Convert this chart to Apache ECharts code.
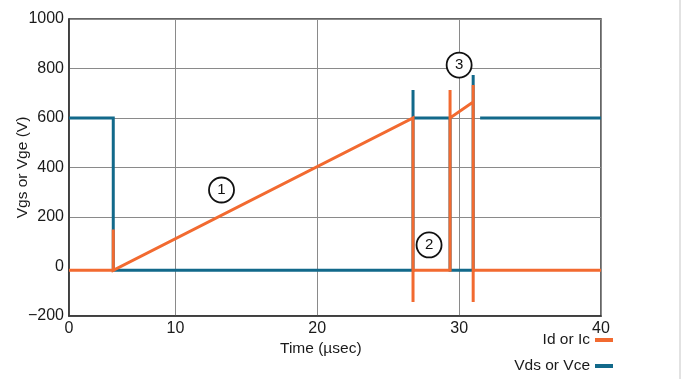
<!DOCTYPE html>
<html>
<head>
<meta charset="utf-8">
<script src="https://cdn.jsdelivr.net/npm/echarts@6/dist/echarts.min.js"></script>
<style>
html,body{margin:0;padding:0;background:#fff;}
#c{width:688px;height:379px;}
</style>
</head>
<body>
<div id="c"></div>
<script>
// Tick labels
const xTickValues = [2.5, 10, 20, 30, 40];
const xTickLabels = ['0', '10', '20', '30', '40'];
const yTickValues = [-200, 0, 200, 400, 600, 800, 1000];

// Series names
const seriesNames = ['Id or Ic', 'Vds or Vce'];

// Id or Ic (time µs, value)
const idTime  = [2.5, 5.62, 5.62, 5.62, 26.75, 26.75, 26.75, 29.36, 29.36, 29.36, 30.99, 30.99, 30.99, 30.99, 40];
const idValue = [-15, -15, 150, -15, 600, -143, -15, -15, 713, 600, 665, 733, -143, -15, -15];

// Vds or Vce (time µs, value)
const vdsTime  = [2.5, 5.62, 5.62, 26.75, 26.75, 26.75, 29.36, 29.36, 30.99, 30.99, 30.99, 31.3, 31.48, 40];
const vdsValue = [600, 600, -15, -15, 713, 600, 600, -15, -15, 774, 600, null, 600, 600];

// Circled annotations
const noteLabels = ['1', '2', '3'];
const noteTime   = [13.25, 27.88, 30.0];
const noteValue  = [309, 87, 814];

const orange = '#f26a30';
const blue = '#12698a';
const grid = '#8a8a8a';
const font = '"Liberation Sans", Arial, Helvetica, sans-serif';

const chart = echarts.init(document.getElementById('c'));
chart.setOption({
  animation: false,
  backgroundColor: '#fff',
  textStyle: { fontFamily: font },
  grid: { left: 69, right: 87, top: 19, bottom: 63, containLabel: false, outerBoundsMode: 'none',
          show: true, borderColor: '#333', borderWidth: 1.5, backgroundColor: 'transparent' },
  xAxis: {
    type: 'value', min: 2.5, max: 40,
    axisLine: { show: true, onZero: false, lineStyle: { color: '#333', width: 1.5 } },
    axisTick: { show: false, customValues: xTickValues },
    axisLabel: {
      customValues: xTickValues, color: '#1a1a1a', fontSize: 16, fontFamily: font, margin: 5,
      formatter: v => xTickLabels[xTickValues.indexOf(v)]
    },
    splitLine: { show: true, lineStyle: { color: grid, width: 1 } }
  },
  yAxis: {
    type: 'value', min: -200, max: 1000, interval: 200,
    name: 'Vgs or Vge (V)', nameLocation: 'middle', nameGap: 38, nameMoveOverlap: false,
    nameTextStyle: { fontSize: 15.5, color: '#1a1a1a', fontFamily: font },
    axisLine: { show: true, onZero: false, lineStyle: { color: '#333', width: 1.5 } },
    axisTick: { show: false },
    axisLabel: { color: '#1a1a1a', fontSize: 16, fontFamily: font, margin: 5,
      formatter: v => (v < 0 ? '\u2212' + Math.abs(v) : String(v)) },
    splitLine: { show: true, lineStyle: { color: yTickValues.map(v => (v === 0 ? 'rgba(0,0,0,0)' : grid)), width: 1 } }
  },
  legend: {
    data: seriesNames, orient: 'vertical', align: 'right', right: 75, top: 332, height: 47, padding: 0,
    itemWidth: 18, itemHeight: 4, itemGap: 10, icon: 'rect',
    textStyle: { fontSize: 15.5, color: '#1a1a1a', fontFamily: font }
  },
  graphic: [
    { type: 'text', left: 321 - 41, top: 341, style: { text: 'Time (\u00b5sec)', font: '15.5px ' + font, fill: '#1a1a1a' } },
    { type: 'line', shape: { x1: 680, y1: 0, x2: 680, y2: 379 }, style: { stroke: '#e2e2e2', lineWidth: 2 } }
  ],
  series: [
    {
      name: seriesNames[1], type: 'line', showSymbol: false, symbol: 'none', connectNulls: false,
      lineStyle: { color: blue, width: 3, join: 'miter' }, itemStyle: { color: blue },
      data: vdsTime.map((t, i) => [t, vdsValue[i]]), z: 2
    },
    {
      name: seriesNames[0], type: 'line', showSymbol: false, symbol: 'none',
      lineStyle: { color: orange, width: 3, join: 'miter' }, itemStyle: { color: orange },
      data: idTime.map((t, i) => [t, idValue[i]]), z: 3
    },
    {
      type: 'scatter', symbolSize: 25, z: 5,
      itemStyle: { color: '#fff', borderColor: '#111', borderWidth: 1.8, opacity: 1 },
      label: { show: true, position: 'inside', color: '#111', fontSize: 15, fontFamily: font, formatter: p => p.data[2] },
      data: noteTime.map((t, i) => [t, noteValue[i], noteLabels[i]])
    }
  ]
});
</script>
</body>
</html>
